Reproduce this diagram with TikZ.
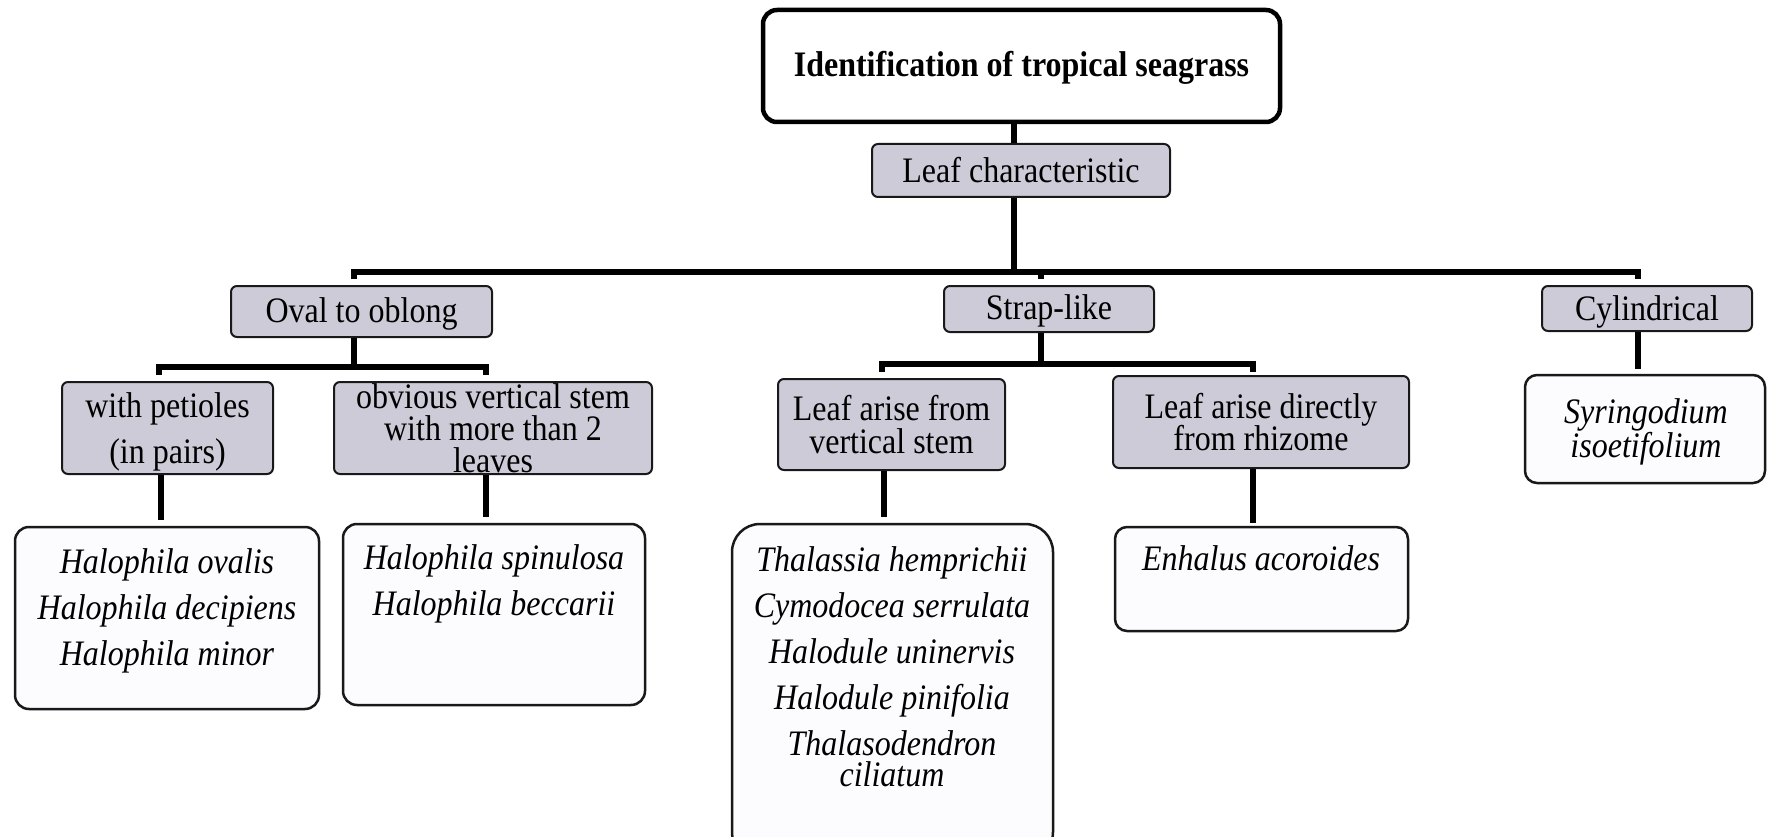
\documentclass[tikz,border=0pt]{standalone}
\usepackage{fontspec}
\setmainfont{Liberation Serif}
\usepackage{graphicx}
\definecolor{graybox}{RGB}{204,203,215}
\definecolor{lightbox}{RGB}{252,251,254}
\definecolor{edge}{RGB}{25,25,25}
\newcommand{\ys}[1]{\scalebox{1}[1.12]{#1}}
\newcommand{\nols}{\lineskiplimit=-100pt\relax\lineskip=0pt\relax}
\begin{document}
\begin{tikzpicture}[x=1pt,y=-1pt,
  conn/.style={line width=5.5pt, black},
  catbox/.style={draw=edge, line width=2pt, fill=graybox, rounded corners=6pt, inner sep=0pt, align=center},
  spbox/.style={draw=edge, line width=2.5pt, fill=lightbox, rounded corners=14pt, inner sep=0pt},
  sptext/.style={align=center, inner sep=0pt},
  fs/.style={font=\fontsize{32}{#1}\selectfont\nols},
  fi/.style={font=\fontsize{32}{#1}\selectfont\itshape\nols},
]
\useasboundingbox (0,0) rectangle (1767,837);
\clip (0,0) rectangle (1767,837);
\fill[white] (0,0) rectangle (1767,837);

% title and first level
\node[draw=black, line width=4.5pt, fill=white, rounded corners=14pt, inner sep=0pt,
      minimum width=517pt, minimum height=112pt] (title) at (1021.5,66) {};
\node[fs=33, inner sep=0pt] (titletext) at (1021.5,68) {\ys{\bfseries Identification of tropical seagrass}};
\node[catbox, minimum width=298pt, minimum height=53pt, fs=33] (lc) at (1021,170.5) {\ys{Leaf characteristic}};

\node[catbox, minimum width=261pt, minimum height=51pt, fs=33] (oval) at (361.5,311.5) {};
\node[fs=33, inner sep=0pt] (ovaltext) at (361.5,313.5) {\ys{Oval to oblong}};
\node[catbox, minimum width=210pt, minimum height=46pt, fs=33] (strap) at (1049,309) {};
\node[fs=33, inner sep=0pt] (straptext) at (1049,311) {\ys{Strap-like}};
\node[catbox, minimum width=210pt, minimum height=45pt, fs=33] (cyl) at (1647,308.5) {};
\node[fs=33, inner sep=0pt] (cyltext) at (1647,311.5) {\ys{Cylindrical}};

% second level
\node[catbox, minimum width=211pt, minimum height=92pt] (pet) at (167.5,428) {};
\node[align=center, inner sep=0pt, fs=46] (pettext) at (167.5,432) {\ys{with petioles}\\\ys{(in pairs)}};
\node[catbox, minimum width=318pt, minimum height=92pt, fs=32] (obv) at (493,428) {\ys{obvious vertical stem}\\\ys{with more than 2}\\\ys{leaves}};
\node[catbox, minimum width=227pt, minimum height=91pt, fs=33] (lvs) at (891.5,424.5) {\ys{Leaf arise from}\\\ys{vertical stem}};
\node[catbox, minimum width=296pt, minimum height=92pt, fs=32] (ldr) at (1261,422) {\ys{Leaf arise directly}\\\ys{from rhizome}};

% species boxes
\node[spbox, minimum width=304pt, minimum height=182pt] (b1) at (167,618) {};
\node[sptext, fi=46] (s1) at (167,610.5) {\ys{Halophila ovalis}\\\ys{Halophila decipiens}\\\ys{Halophila minor}};

\node[spbox, minimum width=302pt, minimum height=181pt] (b2) at (494,614.5) {};
\node[sptext, fi=46] (s2) at (494,584) {\ys{Halophila spinulosa}\\\ys{Halophila beccarii}};

\node[spbox, rounded corners=28pt, minimum width=321pt, minimum height=336pt] (b3) at (892.5,692) {};
\node[sptext, fi=46] (s3) at (892,667) {\ys{Thalassia hemprichii}\\\ys{Cymodocea serrulata}\\\ys{Halodule uninervis}\\\ys{Halodule pinifolia}\\\ys{Thalasodendron}\\[-15pt]\ys{ciliatum}};

\node[spbox, rounded corners=12pt, minimum width=293pt, minimum height=104pt] (b4) at (1261.5,579) {};
\node[sptext, fi=46] (s4) at (1261,558) {\ys{Enhalus acoroides}};

\node[spbox, rounded corners=12pt, minimum width=240pt, minimum height=108pt] (b5) at (1645,429) {};
\node[sptext, fi=34] (s5) at (1646,432) {\ys{Syringodium}\\\ys{isoetifolium}};

% connectors
\coordinate (tc) at (1014,272);
\draw[conn] (tc |- title.south) -- (tc |- lc.north);
\draw[conn] (tc |- lc.south) -- (tc);

\coordinate (jL) at (354,272);
\coordinate (jR) at (1638,272);
\coordinate (jM) at (1041,272);
\coordinate (dL) at (354,279);
\coordinate (dR) at (1638,279);
\coordinate (dM) at (1041,279);
\draw[conn] (dL) -- (jL) -- (jR) -- (dR);
\draw[conn] (jM) -- (dM);

% oval branch
\coordinate (o0) at (354,367);
\coordinate (oL) at (159,367);
\coordinate (oR) at (486,367);
\coordinate (oLd) at (159,375);
\coordinate (oRd) at (486,375);
\draw[conn] (o0 |- oval.south) -- (o0);
\draw[conn] (oLd) -- (oL) -- (oR) -- (oRd);

% strap branch
\coordinate (s0) at (1041,364);
\coordinate (sL) at (882,364);
\coordinate (sR) at (1253,364);
\coordinate (sLd) at (882,372);
\coordinate (sRd) at (1253,372);
\draw[conn] (s0 |- strap.south) -- (s0);
\draw[conn] (sLd) -- (sL) -- (sR) -- (sRd);

% cylindrical branch
\coordinate (c0) at (1638,369);
\draw[conn] (c0 |- cyl.south) -- (c0);

% drops to species
\coordinate (p1) at (161,520);
\coordinate (p2) at (486,517);
\coordinate (p3) at (884,517);
\coordinate (p4) at (1253,523);
\draw[conn] (p1 |- pet.south) -- (p1);
\draw[conn] (p2 |- obv.south) -- (p2);
\draw[conn] (p3 |- lvs.south) -- (p3);
\draw[conn] (p4 |- ldr.south) -- (p4);
\end{tikzpicture}
\end{document}
